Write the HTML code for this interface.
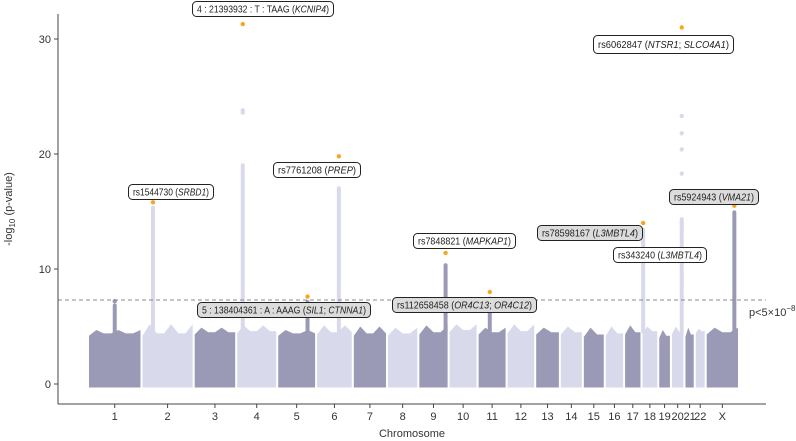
<!DOCTYPE html>
<html><head><meta charset="utf-8"><style>
html,body{margin:0;padding:0;background:#fff;}
svg{display:block;font-family:"Liberation Sans",sans-serif;}
</style></head><body>
<svg id="chart" width="796" height="441"></svg>
<script>
const chromosomes=["1","2","3","4","5","6","7","8","9","10","11","12","13","14","15","16","17","18","19","20","21","22","X"];
const chromLengths=[249,243,198,191,181,171,159,146,141,135,135,133,115,107,102,90,81,78,59,63,48,51,155];
const blockTops=[4.7,5.2,4.9,5.1,4.7,5.1,5.0,4.9,5.1,5.2,4.9,5.2,4.9,5.0,4.9,5.0,5.1,5.0,4.7,5.0,4.9,4.8,4.9];
const blockBase=[4.2,4.2,4.3,4.4,4.2,4.3,4.2,4.2,4.3,4.5,4.3,4.4,4.3,4.3,4.1,4.2,4.3,4.4,4.0,4.3,4.1,4.4,4.3];
const peakChrom=[0,1,3,4,5,8,10,17,19,22];
const peakFrac=[0.5,0.22,0.16,0.78,0.62,0.9,0.42,0.1,0.8,0.86];
const peakTop=[7.2,15.8,31.3,7.6,19.8,11.4,8.0,14.0,31.0,15.5];
const peakColumn=[7.0,15.5,19.2,7.3,17.2,10.5,7.6,13.6,14.5,15.1];
const peakHighlight=[false,true,true,true,true,true,true,true,true,true];
const extraPoints=[[3,0.16,23.6],[3,0.16,23.8],[19,0.8,23.3],[19,0.8,21.8],[19,0.8,20.4],[19,0.8,18.3],[19,0.8,14.0],[19,0.8,13.4],[19,0.8,11.8],[19,0.8,10.5],[19,0.8,9.2],[19,0.8,8.5]];
const labelText=["4 : 21393932 : T : TAAG (<i>KCNIP4</i>)","rs1544730 (<i>SRBD1</i>)","rs7761208 (<i>PREP</i>)","5 : 138404361 : A : AAAG (<i>SIL1</i>; <i>CTNNA1</i>)","rs112658458 (<i>OR4C13</i>; <i>OR4C12</i>)","rs7848821 (<i>MAPKAP1</i>)","rs6062847 (<i>NTSR1</i>; <i>SLCO4A1</i>)","rs5924943 (<i>VMA21</i>)","rs78598167 (<i>L3MBTL4</i>)","rs343240 (<i>L3MBTL4</i>)"];
const labelBox=[[192,1,141,15],[128,184,85,15],[273,162,87,15],[197,302,173,15],[392,297,144,15],[413,233,102,15],[593,35,140,18],[669,189,89,15],[537,225,105,15],[613,247,93,15]];
const labelGray=[false,false,false,true,true,false,false,true,true,false];
const yTicks=[0,10,20,30];
const threshold=7.3;

const NS="http://www.w3.org/2000/svg";
const svg=document.getElementById('chart');
const X0=88,X1=739,Y0=384,PX=11.5;
const total=chromLengths.reduce((a,b)=>a+b,0);
const starts=[];let acc=0;for(const l of chromLengths){starts.push(acc);acc+=l;}
const xs=g=>X0+(X1-X0)*g/total;
const ys=v=>Y0-v*PX;
function el(t,a,p){const e=document.createElementNS(NS,t);for(const k in a)e.setAttribute(k,a[k]);(p||svg).appendChild(e);return e;}
const DARK="#9a9ab6",LIGHT="#d9d9ec";

chromLengths.forEach((l,i)=>{
  const xa=xs(starts[i])+1,xb=xs(starts[i]+l)-1;
  const col=i%2===0?DARK:LIGHT;
  const n=Math.max(3,Math.round((xb-xa)/7));
  let d=`M${xa},${ys(-0.3)} L${xa},${ys(blockBase[i])}`;
  for(let k=1;k<=n;k++){const x=xa+(xb-xa)*k/n;const v=k%3===1?blockTops[i]:blockBase[i]+0.2;d+=` L${x},${ys(v)}`;}
  d+=` L${xb},${ys(-0.3)} Z`;
  const p=el('path',{d,fill:col});
  
  
});
peakChrom.forEach((c,i)=>{
  const x=xs(starts[c]+chromLengths[c]*peakFrac[i]);
  const col=c%2===0?DARK:LIGHT;
  const r=el('rect',{x:x-2,y:ys(peakColumn[i]),width:4,height:ys(blockBase[c])-ys(peakColumn[i]),rx:2,fill:col});
  
  
  const d=el('circle',{cx:x,cy:ys(peakTop[i]),r:2.2,fill:peakHighlight[i]?"#f5a623":col});
  
  
});
extraPoints.forEach(p=>{
  const c=p[0];const x=xs(starts[c]+chromLengths[c]*p[1]);
  const d=el('circle',{cx:x,cy:ys(p[2]),r:2.2,fill:LIGHT});
  
  
});
const th=el('line',{x1:58,x2:766,y1:ys(threshold),y2:ys(threshold),stroke:"#888",'stroke-dasharray':"4,3",'stroke-width':1});


const tt=el('text',{x:749,y:316,'font-size':11,fill:"#333"});tt.innerHTML='p&lt;5×10<tspan dy="-5" font-size="8">−8</tspan>';


const ya=el('line',{x1:58,x2:58,y1:14,y2:404,stroke:"#444"});


const xa=el('line',{x1:58,x2:766,y1:404,y2:404,stroke:"#444"});


yTicks.forEach(v=>{
  el('line',{x1:54,x2:58,y1:ys(v),y2:ys(v),stroke:"#444"});
  const t=el('text',{x:51,y:ys(v)+4,'font-size':11,'text-anchor':'end',fill:"#333"});t.textContent=v;
  
  
});
chromosomes.forEach((c,i)=>{
  const x=xs(starts[i]+chromLengths[i]/2);
  el('line',{x1:x,x2:x,y1:404,y2:408,stroke:"#444"});
  const t=el('text',{x,y:420,'font-size':11,'text-anchor':'middle',fill:"#333"});t.textContent=c;
  
  
});
const xt=el('text',{x:412,y:437,'font-size':11,'text-anchor':'middle',fill:"#333"});xt.textContent="Chromosome";


const yt=el('text',{transform:"translate(12,209) rotate(-90)",'font-size':11,'text-anchor':'middle',fill:"#333"});
yt.innerHTML='-log<tspan dy="3" font-size="8">10</tspan><tspan dy="-3"> (p-value)</tspan>';


labelText.forEach((s,i)=>{
  const b=labelBox[i];
  const g=el('g',{});
  
  
  el('rect',{x:b[0]+0.5,y:b[1]+0.5,width:b[2],height:b[3],rx:4,fill:labelGray[i]?"#dcdcdc":"#fff",stroke:"#222",'stroke-width':1},g);
  const t=el('text',{x:b[0]+5,y:b[1]+b[3]/2+4,'font-size':10.5,textLength:b[2]-9,lengthAdjust:'spacingAndGlyphs',fill:"#222"},g);
  t.innerHTML=s.replace(/<i>/g,'<tspan font-style="italic">').replace(/<\/i>/g,'</tspan>');
});
</script>
</body></html>
